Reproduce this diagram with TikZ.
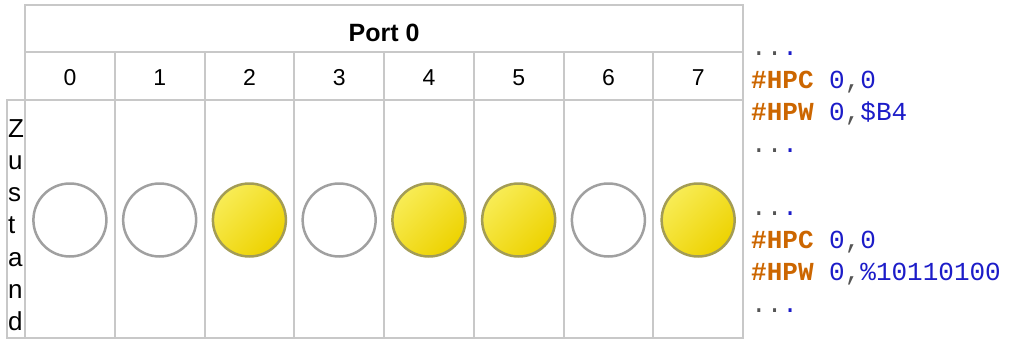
\documentclass[tikz,border=0pt]{standalone}
\usepackage{fontspec}
\usepackage{tikz}
\setmainfont{Liberation Sans}
\newfontfamily\codefont{Liberation Mono}

\definecolor{gridgray}{HTML}{C8C8C8}
\definecolor{ledoff}{HTML}{A0A0A0}
\definecolor{ledrim}{HTML}{A39C55}
\definecolor{ledlight}{HTML}{F8EC55}
\definecolor{leddark}{HTML}{EDD200}
\definecolor{kwcol}{HTML}{CC6600}
\definecolor{numcol}{HTML}{1C1CC8}
\definecolor{punctcol}{HTML}{555555}

\newcommand{\kw}[1]{\textcolor{kwcol}{\bfseries #1}}
\newcommand{\nm}[1]{\textcolor{numcol}{#1}}
\newcommand{\pc}[1]{\textcolor{punctcol}{#1}}

\tikzset{
  grid line/.style={draw=gridgray, line width=2pt},
  led/.style={circle, minimum size=73pt, inner sep=0pt, line width=2.5pt},
  led off/.style={led, draw=ledoff, fill=white},
  led on/.style={led, draw=ledrim, left color=ledlight, right color=leddark, shading angle=45},
  code/.style={anchor=base west, inner sep=0pt, font=\codefont\fontsize{26}{32}\selectfont},
}

\begin{document}
\begin{tikzpicture}[x=1pt, y=-1pt]
  \useasboundingbox (0,0) rectangle (1010,340);
  % Zustand, one letter per line
  \foreach \ch [count=\k from 0] in {Z,u,s,t,a,n,d}
    \node[anchor=base west, inner sep=0pt, font=\fontsize{26}{32}\selectfont] (zst\k) at (8,137+32.3*\k) {\ch};
  % bit numbers and LEDs
  \foreach \st [count=\i from 0] in {off,off,on,off,on,on,off,on} {
    \node[anchor=base, inner sep=0pt, font=\fontsize{23}{28}\selectfont] (bit\i) at (69.9+89.75*\i,85) {\i};
    \node[led \st] (led\i) at (69.9+89.75*\i,220) {};
  }
  \node[anchor=base, inner sep=0pt, font=\bfseries\fontsize{25}{30}\selectfont] (port) at (384,41) {Port 0};
  % table lines
  \draw[grid line] (25,5) rectangle (743,338);
  \draw[grid line] (25,52) -- (743,52);
  \draw[grid line] (25,100) -- (743,100);
  \foreach \i in {1,...,7} \draw[grid line] (25+89.75*\i,52) -- (25+89.75*\i,338);
  \draw[grid line] (7,100) rectangle (25,338);
  % code
  \node[code] (hexdots1) at (751,55) {\pc{..}\nm{.}};
  \node[code] (hexhpc) at (751,88) {\kw{\#HPC}~\nm{0}\pc{,}\nm{0}};
  \node[code] (hexhpw) at (751,120) {\kw{\#HPW}~\nm{0}\pc{,}\nm{\$B4}};
  \node[code] (hexdots2) at (751,152) {\pc{..}\nm{.}};
  \node[code] (bindots1) at (751,215) {\pc{..}\nm{.}};
  \node[code] (binhpc) at (751,248) {\kw{\#HPC}~\nm{0}\pc{,}\nm{0}};
  \node[code] (binhpw) at (751,280) {\kw{\#HPW}~\nm{0}\pc{,}\nm{\%10110100}};
  \node[code] (bindots2) at (751,312) {\pc{..}\nm{.}};
\end{tikzpicture}
\end{document}
